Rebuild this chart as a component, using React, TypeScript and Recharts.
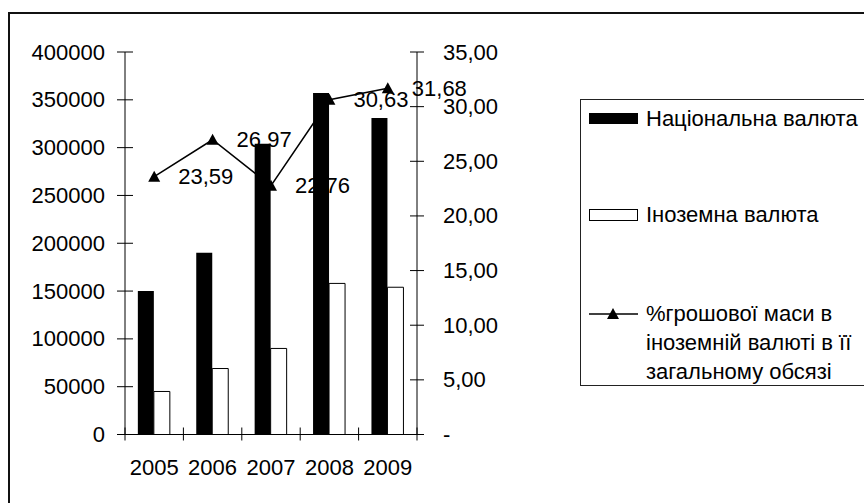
import React from "react";
import {
  ComposedChart,
  Bar,
  Line,
  XAxis,
  YAxis,
  Legend,
  LabelList,
} from "recharts";

const years = ["2005", "2006", "2007", "2008", "2009"];
const nationalCurrency = [150000, 190000, 304000, 357000, 331000];
const foreignCurrency = [45000, 69000, 90000, 158000, 154000];
const foreignShare = [23.59, 26.97, 22.76, 30.63, 31.68];

const leftTicks = [0, 50000, 100000, 150000, 200000, 250000, 300000, 350000, 400000];
const rightTicks = [0, 5, 10, 15, 20, 25, 30, 35];

const seriesNames = {
  national: "Національна валюта",
  foreign: "Іноземна валюта",
  share: "%грошової маси в іноземній валюті в її загальному обсязі",
};
const shareLines = ["%грошової маси в", "іноземній валюті в її", "загальному обсязі"];

const data = years.map((year, i) => ({
  year,
  national: nationalCurrency[i],
  foreign: foreignCurrency[i],
  share: foreignShare[i],
}));

const FONT = "'Liberation Sans', Arial, sans-serif";
const FS = 22;

const fmtComma = (v: number) => (v === 0 ? "-" : v.toFixed(2).replace(".", ","));

// chart geometry
const W = 864;
const H = 503;
const LEFT_AXIS_W = 125;
const RIGHT_AXIS_W = 80;
const MARGIN = { top: 52, right: 367, bottom: 0, left: 0 };
const X_AXIS_H = 68.5;
const PLOT_W = W - MARGIN.left - MARGIN.right - LEFT_AXIS_W - RIGHT_AXIS_W;

function LeftTick(props: any) {
  const { x, y, payload } = props;
  return (
    <g>
      <line x1={x + 12} x2={x + 28} y1={y} y2={y} stroke="#000" />
      <text x={x} y={y} textAnchor="end" dominantBaseline="central" fontSize={FS} fontFamily={FONT} fill="#000">
        {payload.value}
      </text>
    </g>
  );
}

function RightTick(props: any) {
  const { x, y, payload } = props;
  return (
    <g>
      <line x1={x - 33} x2={x - 19} y1={y} y2={y} stroke="#000" />
      <text x={x} y={y} textAnchor="start" dominantBaseline="central" fontSize={FS} fontFamily={FONT} fill="#000">
        {fmtComma(payload.value)}
      </text>
    </g>
  );
}

function BottomTick(props: any) {
  const { x, y, payload, index, visibleTicksCount } = props;
  const count = visibleTicksCount || years.length;
  const half = PLOT_W / count / 2;
  const axisY = y - 24;
  return (
    <g>
      <line x1={x - half} x2={x - half} y1={axisY - 7} y2={axisY + 6} stroke="#000" />
      {index === count - 1 && (
        <line x1={x + half} x2={x + half} y1={axisY - 7} y2={axisY + 6} stroke="#000" />
      )}
      <text x={x} y={y} dy="0.76em" textAnchor="middle" fontSize={FS} fontFamily={FONT} fill="#000">
        {payload.value}
      </text>
    </g>
  );
}

function Triangle(props: any) {
  const { cx, cy } = props;
  if (cx == null || cy == null) return null;
  return <polygon points={`${cx},${cy - 6} ${cx - 6},${cy + 5} ${cx + 6},${cy + 5}`} fill="#000" />;
}

function ShareLabel(props: any) {
  const { x, y, value } = props;
  return (
    <text x={x + 24} y={y} dominantBaseline="central" fontSize={FS} fontFamily={FONT} fill="#000">
      {fmtComma(value)}
    </text>
  );
}

function LegendBox() {
  const row = (top: number, swatch: React.ReactNode, lines: string[]) => (
    <div style={{ position: "absolute", left: 8, top, display: "flex", alignItems: "flex-start" }}>
      <div style={{ width: 49, height: 29, display: "flex", alignItems: "center", marginRight: 8 }}>{swatch}</div>
      <div style={{ lineHeight: "29px", whiteSpace: "nowrap" }}>
        {lines.map((t) => (
          <div key={t}>{t}</div>
        ))}
      </div>
    </div>
  );
  return (
    <div
      style={{
        position: "relative",
        width: 300,
        height: 287,
        border: "1px solid #222",
        boxSizing: "border-box",
        background: "#fff",
        fontFamily: FONT,
        fontSize: FS,
        color: "#000",
      }}
    >
      {row(4, <div style={{ width: 49, height: 11, background: "#000" }} />, [seriesNames.national])}
      {row(
        100,
        <div style={{ width: 49, height: 12, background: "#fff", border: "1px solid #000", boxSizing: "border-box" }} />,
        [seriesNames.foreign]
      )}
      {row(
        199,
        <svg width={49} height={14}>
          <line x1={0} x2={49} y1={7} y2={7} stroke="#000" strokeWidth={1.5} />
          <polygon points="24,1 18,12 30,12" fill="#000" />
        </svg>,
        shareLines
      )}
    </div>
  );
}

export default function App() {
  return (
    <div
      style={{
        position: "absolute",
        left: 0,
        top: 0,
        width: W,
        height: H,
        overflow: "hidden",
        background: "#fff",
      }}
    >
      <div
        style={{
          position: "absolute",
          left: 8,
          top: 12,
          width: 1000,
          height: 1000,
          borderTop: "2px solid #111",
          borderLeft: "2px solid #111",
        }}
      />
      <ComposedChart width={W} height={H} data={data} margin={MARGIN} barCategoryGap="22%" barGap={0}>
        <XAxis
          dataKey="year"
          height={X_AXIS_H}
          tickSize={6}
          tickMargin={18}
          tickLine={false}
          axisLine={{ stroke: "#000" }}
          tick={<BottomTick />}
          interval={0}
        />
        <YAxis
          yAxisId="l"
          width={LEFT_AXIS_W}
          domain={[0, 400000]}
          ticks={leftTicks}
          tickSize={8}
          tickMargin={12}
          tickLine={false}
          axisLine={{ stroke: "#000" }}
          tick={<LeftTick />}
          interval={0}
        />
        <YAxis
          yAxisId="r"
          orientation="right"
          width={RIGHT_AXIS_W}
          domain={[0, 35]}
          ticks={rightTicks}
          tickSize={7}
          tickMargin={19}
          tickLine={false}
          axisLine={{ stroke: "#000" }}
          tick={<RightTick />}
          interval={0}
        />
        <Legend
          layout="vertical"
          align="center"
          verticalAlign="middle"
          content={() => <LegendBox />}
          wrapperStyle={{ left: 580, top: 99, width: 300, height: 287 }}
        />
        <Line
          yAxisId="r"
          dataKey="share"
          name={seriesNames.share}
          type="linear"
          stroke="#000"
          strokeWidth={1.5}
          dot={<Triangle />}
          activeDot={false}
          isAnimationActive={false}
        >
          <LabelList dataKey="share" content={<ShareLabel />} />
        </Line>
        <Bar
          yAxisId="l"
          dataKey="national"
          name={seriesNames.national}
          fill="#000"
          isAnimationActive={false}
        />
        <Bar
          yAxisId="l"
          dataKey="foreign"
          name={seriesNames.foreign}
          fill="#fff"
          stroke="#000"
          strokeWidth={1}
          isAnimationActive={false}
        />
      </ComposedChart>
    </div>
  );
}
